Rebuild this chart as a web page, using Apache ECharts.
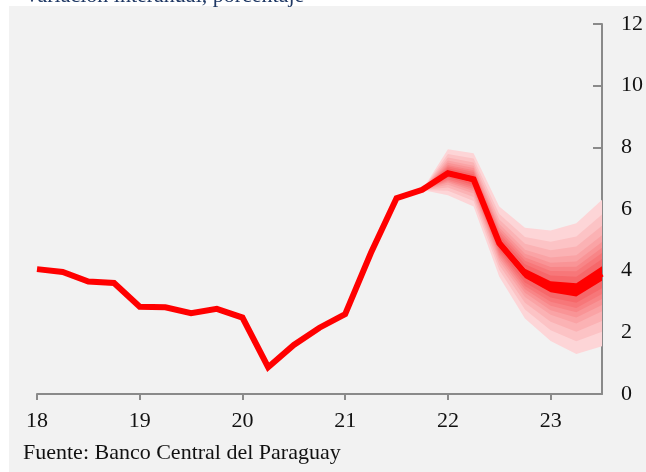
<!DOCTYPE html>
<html>
<head>
<meta charset="utf-8">
<script src="https://cdn.jsdelivr.net/npm/echarts@6/dist/echarts.min.js"></script>
<style>
  html, body { margin: 0; padding: 0; background: #ffffff; }
  #panel { position: absolute; left: 9px; top: 6px; width: 637px; height: 466px; background: #f2f2f2; }
  #chart { position: absolute; left: 0; top: 0; width: 646px; height: 472px; }
</style>
</head>
<body>
<div id="panel"></div>
<div id="chart"></div>
<script>
// Quarterly observations, 2018 Q1 to 2023 Q3
const quarters = [
  '18Q1','18Q2','18Q3','18Q4','19Q1','19Q2','19Q3','19Q4',
  '20Q1','20Q2','20Q3','20Q4','21Q1','21Q2','21Q3','21Q4',
  '22Q1','22Q2','22Q3','22Q4','23Q1','23Q2','23Q3'
];
// Year-over-year inflation (%), central path
const inflation = [
  4.05, 3.96, 3.65, 3.60, 2.83, 2.81, 2.62, 2.76,
  2.48, 0.87, 1.59, 2.15, 2.59, 4.57, 6.35, 6.62,
  7.16, 6.96, 4.89, 3.91, 3.48, 3.37, 3.90
];
// Fan bands from 21Q4 to 23Q3, inner (1) to outer (9)
const fanStart = '21Q4';
const up1 = [6.62, 7.24, 7.05, 5.01, 4.06, 3.66, 3.59, 4.14];
const up2 = [6.62, 7.32, 7.13, 5.13, 4.21, 3.84, 3.80, 4.38];
const up3 = [6.62, 7.38, 7.20, 5.22, 4.32, 3.99, 3.98, 4.57];
const up4 = [6.62, 7.43, 7.26, 5.31, 4.43, 4.12, 4.13, 4.74];
const up5 = [6.62, 7.50, 7.33, 5.40, 4.55, 4.26, 4.30, 4.93];
const up6 = [6.62, 7.57, 7.40, 5.51, 4.68, 4.43, 4.50, 5.15];
const up7 = [6.62, 7.67, 7.51, 5.66, 4.87, 4.66, 4.78, 5.46];
const up8 = [6.62, 7.78, 7.64, 5.84, 5.09, 4.94, 5.11, 5.82];
const up9 = [6.62, 7.94, 7.81, 6.08, 5.39, 5.30, 5.54, 6.30];
const low1 = [6.62, 7.09, 6.87, 4.78, 3.76, 3.30, 3.16, 3.67];
const low2 = [6.62, 7.02, 6.78, 4.67, 3.62, 3.13, 2.96, 3.43];
const low3 = [6.62, 6.96, 6.71, 4.59, 3.50, 2.99, 2.79, 3.24];
const low4 = [6.62, 6.91, 6.65, 4.51, 3.40, 2.86, 2.65, 3.08];
const low5 = [6.62, 6.86, 6.58, 4.42, 3.28, 2.72, 2.48, 2.89];
const low6 = [6.62, 6.79, 6.50, 4.32, 3.15, 2.57, 2.29, 2.68];
const low7 = [6.62, 6.70, 6.39, 4.18, 2.96, 2.34, 2.02, 2.37];
const low8 = [6.62, 6.59, 6.26, 4.02, 2.74, 2.07, 1.71, 2.02];
const low9 = [6.62, 6.45, 6.08, 3.80, 2.45, 1.72, 1.30, 1.55];
const yTicks = [0, 2, 4, 6, 8, 10, 12];

const uppers = [up1, up2, up3, up4, up5, up6, up7, up8, up9];
const lowers = [low1, low2, low3, low4, low5, low6, low7, low8, low9];
const bandColors = ['#ff0000', '#f6686a', '#f77779', '#f88587', '#f99496',
                    '#faa3a5', '#fbb2b4', '#fcc3c5', '#fdd5d7'];

const offset = quarters.indexOf(fanStart);
function pad(arr) {
  return quarters.map((q, i) => (i >= offset ? arr[i - offset] : '-'));
}

const series = [];
// outer bands first so inner ones sit on top
for (let k = uppers.length - 1; k >= 0; k--) {
  const lo = lowers[k], hi = uppers[k];
  series.push({
    type: 'line', stack: 'band' + k, data: pad(lo),
    symbol: 'none', lineStyle: { width: 0, opacity: 0 }, silent: true
  });
  series.push({
    type: 'line', stack: 'band' + k, data: pad(hi.map((v, i) => +(v - lo[i]).toFixed(2))),
    symbol: 'none', lineStyle: { width: 0, opacity: 0 },
    areaStyle: { color: bandColors[k], opacity: 1 }, silent: true
  });
}
series.push({
  type: 'line', data: inflation, symbol: 'none', clip: false,
  lineStyle: { color: '#ff0000', width: 6, join: 'miter' }, z: 5
});

const serif = '"Liberation Serif", "DejaVu Serif", serif';
const chart = echarts.init(document.getElementById('chart'), null, { renderer: 'canvas' });
chart.setOption({
  animation: false,
  backgroundColor: 'transparent',
  grid: { left: 37, right: 44, top: 24, bottom: 78, containLabel: false },
  xAxis: {
    type: 'category', data: quarters, boundaryGap: false,
    axisLine: { lineStyle: { color: '#8a8a8a', width: 2 } },
    axisTick: { interval: 3, length: 6, lineStyle: { color: '#8a8a8a', width: 2 } },
    axisLabel: { interval: 3, margin: 16, color: '#111', fontFamily: serif, fontSize: 22,
                 formatter: v => v.slice(0, 2) },
    splitLine: { show: false }
  },
  yAxis: {
    type: 'value', position: 'right', min: yTicks[0], max: yTicks[yTicks.length - 1], interval: 2,
    axisLine: { show: true, lineStyle: { color: '#8a8a8a', width: 2 } },
    axisTick: { show: true, inside: true, length: 9, lineStyle: { color: '#8a8a8a', width: 2 } },
    axisLabel: { margin: 19, color: '#111', fontFamily: serif, fontSize: 22 },
    splitLine: { show: false }
  },
  graphic: [
    { type: 'text', left: 24, top: -15, silent: true,
      style: { text: 'Variación interanual, porcentaje', fill: '#1f3864', font: '22px ' + serif } },
    { type: 'text', left: 23, top: 442, silent: true,
      style: { text: 'Fuente: Banco Central del Paraguay', fill: '#111', font: '22px ' + serif } }
  ],
  series: series
});
</script>
</body>
</html>
